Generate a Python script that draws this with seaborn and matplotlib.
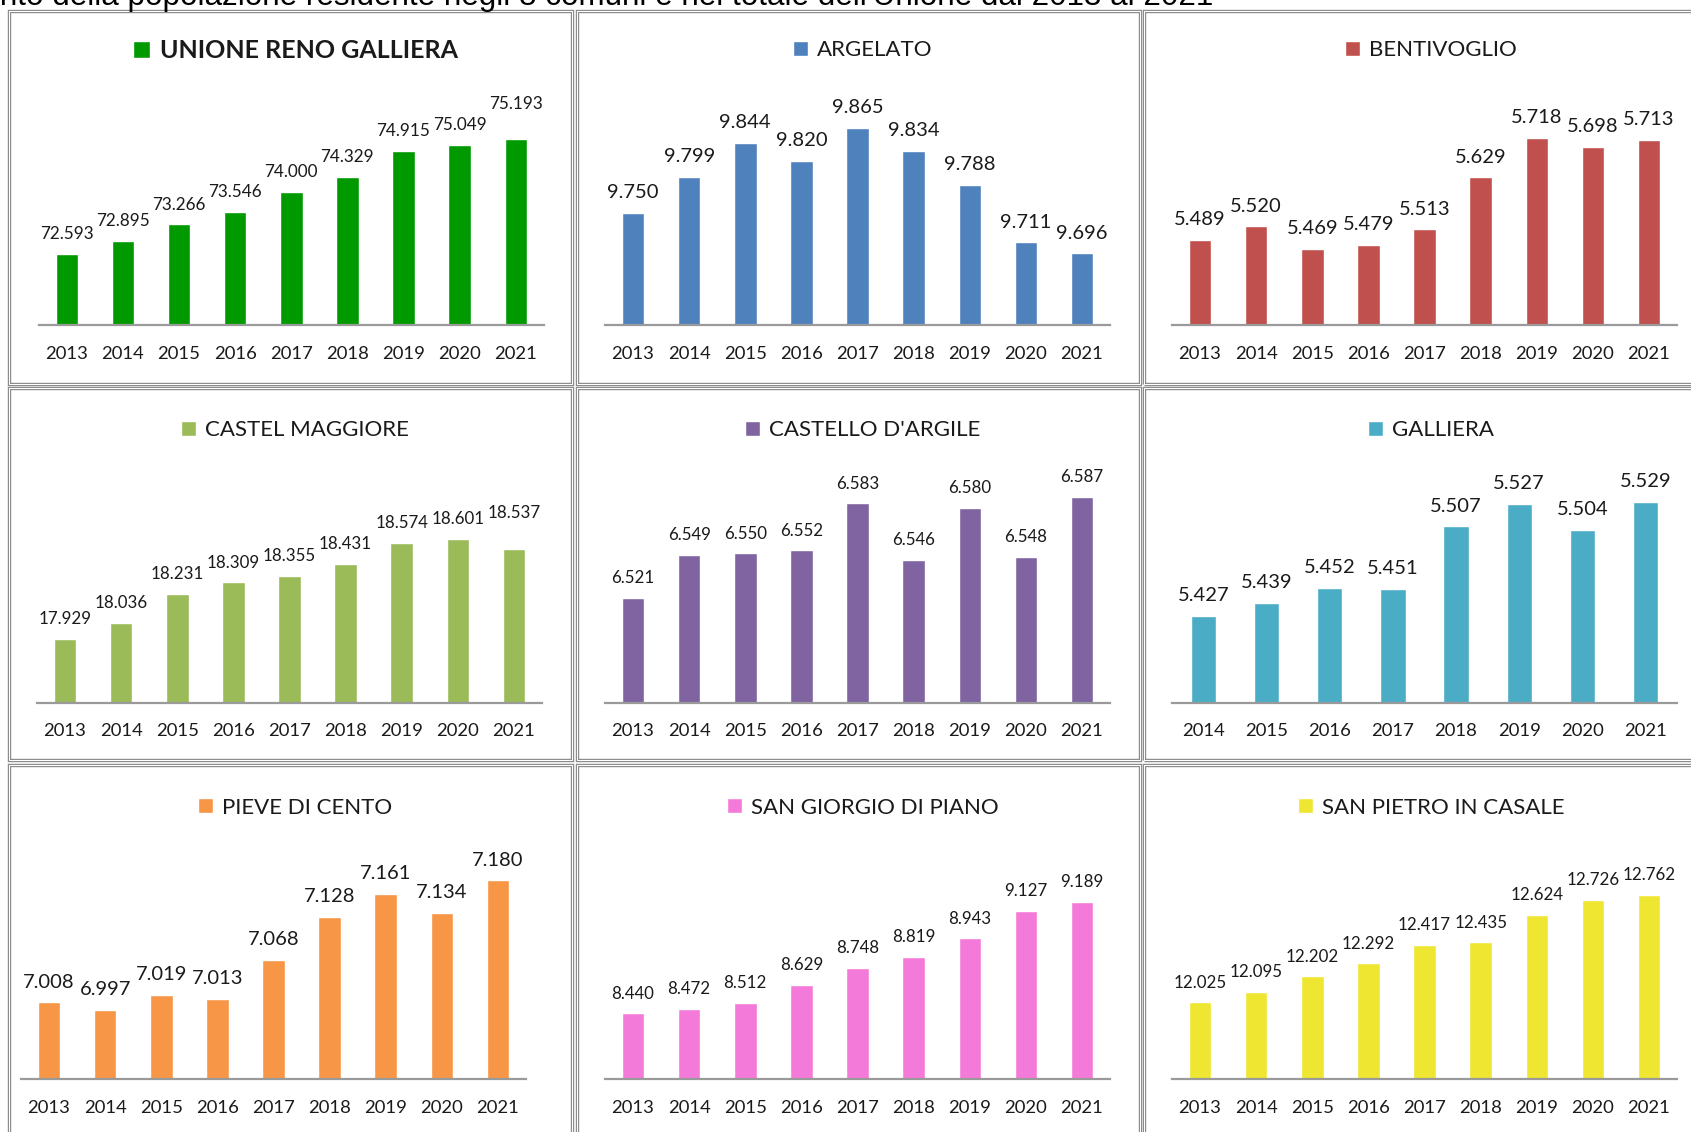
import seaborn as sns
import matplotlib.pyplot as plt
from matplotlib.patches import Patch, Rectangle

# dati: popolazione residente al 31/12
years = ["2013", "2014", "2015", "2016", "2017", "2018", "2019", "2020", "2021"]
years_galliera = ["2014", "2015", "2016", "2017", "2018", "2019", "2020", "2021"]

unione = [72593, 72895, 73266, 73546, 74000, 74329, 74915, 75049, 75193]
argelato = [9750, 9799, 9844, 9820, 9865, 9834, 9788, 9711, 9696]
bentivoglio = [5489, 5520, 5469, 5479, 5513, 5629, 5718, 5698, 5713]
castel_maggiore = [17929, 18036, 18231, 18309, 18355, 18431, 18574, 18601, 18537]
castello_dargile = [6521, 6549, 6550, 6552, 6583, 6546, 6580, 6548, 6587]
galliera = [5427, 5439, 5452, 5451, 5507, 5527, 5504, 5529]
pieve_di_cento = [7008, 6997, 7019, 7013, 7068, 7128, 7161, 7134, 7180]
san_giorgio = [8440, 8472, 8512, 8629, 8748, 8819, 8943, 9127, 9189]
san_pietro = [12025, 12095, 12202, 12292, 12417, 12435, 12624, 12726, 12762]

names = ["UNIONE RENO GALLIERA", "ARGELATO", "BENTIVOGLIO",
         "CASTEL MAGGIORE", "CASTELLO D'ARGILE", "GALLIERA",
         "PIEVE DI CENTO", "SAN GIORGIO DI PIANO", "SAN PIETRO IN CASALE"]
series = [unione, argelato, bentivoglio, castel_maggiore, castello_dargile,
          galliera, pieve_di_cento, san_giorgio, san_pietro]
x_labels = [years, years, years, years, years, years_galliera, years, years, years]

colors = ["#009A00", "#4F81BD", "#C0504D", "#9BBB59", "#8064A2",
          "#4BACC6", "#F79646", "#F47AD9", "#EFE631"]
ylims = [(71000, 76000), (9600, 9898), (5300, 5795), (17500, 18995), (6452, 6598),
         (5350, 5548), (6900, 7213), (8000, 9490), (11500, 13020)]
label_sizes = [12.3, 14.5, 14.5, 12.2, 12.2, 14.5, 14.5, 12.2, 12.2]
# etichette spostate a mano più in alto nell'originale (pannello, indice barra)
raised = [(0, 8), (3, 8)]

# layout in pixel (figura 1691x1132)
W, H = 1691, 1132
axis_bottom = [325, 702.5, 1079]
axis_left = [[38.8, 605, 1172], [37, 605, 1172], [21, 605, 1172]]
axis_w, axis_h = 505, 222
title_y = [50.5, 430, 807.5]
title_x = [295, 863, 1431]
border_rows = [(10.5, 383.5), (387.5, 760), (765, 1140)]
border_cols = [(8.5, 572), (576.5, 1140), (1143.5, 1712)]

sns.set_style("white")
plt.rcParams['font.family'] = ['Lato', 'DejaVu Sans']

fig = plt.figure(figsize=(W / 100, H / 100), dpi=100)

# titolo del documento, tagliato in alto come nell'immagine originale
fig.text(1213 / W, 1 - 5 / H,
         "Andamento della popolazione residente negli 8 comuni e nel totale dell'Unione dal 2013 al 2021",
         ha='right', va='baseline', fontsize=22.6, family='Liberation Sans', color='black')

def fmt(v):
    return f"{v:,}".replace(",", ".")

for i in range(9):
    r, c = divmod(i, 3)

    # cornice del grafico (doppia linea grigia)
    x0, x1 = border_cols[c]
    y0, y1 = border_rows[r]
    for lw, col in [(3.4, "#8C8C8C"), (1.0, "white")]:
        fig.add_artist(Rectangle((x0 / W, 1 - y1 / H), (x1 - x0) / W, (y1 - y0) / H,
                                 transform=fig.transFigure, fill=False,
                                 edgecolor=col, linewidth=lw * 0.72))

    left = axis_left[r][c]
    ax = fig.add_axes([left / W, 1 - axis_bottom[r] / H, axis_w / W, axis_h / H])
    ax.set_facecolor("none")
    sns.barplot(x=x_labels[i], y=series[i], color=colors[i], width=0.4,
                saturation=1, errorbar=None, ax=ax)
    ax.set_xlim(-0.5, len(series[i]) - 0.5)
    ax.set_ylim(*ylims[i])
    anns = ax.bar_label(ax.containers[0], labels=[fmt(v) for v in series[i]],
                        padding=8.5, fontsize=label_sizes[i], color="#1A1A1A")
    for p, k in raised:
        if p == i:
            dx, dy = anns[k].xyann
            anns[k].xyann = (dx, dy + 11)

    for s in ["left", "top", "right"]:
        ax.spines[s].set_visible(False)
    ax.spines["bottom"].set_color("#9A9A9A")
    ax.spines["bottom"].set_linewidth(1.6)
    ax.set_yticks([])
    ax.set_xlabel("")
    ax.set_ylabel("")
    ax.tick_params(axis='x', length=0, pad=15, labelsize=13.3, labelcolor="#1A1A1A")

    if i == 0:
        prop = {'size': 18, 'weight': 'bold'}
    else:
        prop = {'size': 16}
    ax.legend(handles=[Patch(facecolor=colors[i], label=names[i])],
              loc='center', bbox_to_anchor=(title_x[c] / W, 1 - title_y[r] / H),
              bbox_transform=fig.transFigure, frameon=False, prop=prop,
              handlelength=0.68, handleheight=0.68, handletextpad=0.4,
              borderpad=0, borderaxespad=0, labelcolor="#1A1A1A")

fig.savefig("out.png", dpi=100)
